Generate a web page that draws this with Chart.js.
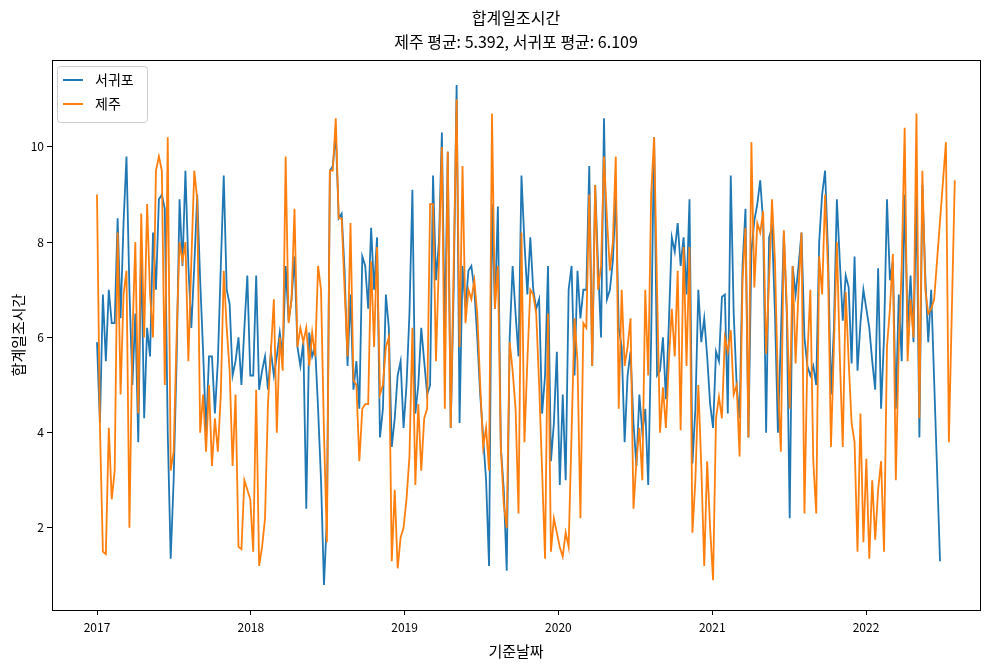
<!DOCTYPE html>
<html>
<head>
<meta charset="utf-8">
<script src="https://cdn.jsdelivr.net/npm/chart.js@4.4.0/dist/chart.umd.min.js"></script>
<style>
  html, body { margin: 0; padding: 0; background: #fff; }
  canvas { display: block; }
</style>
</head>
<body>
<canvas id="chart" width="991" height="663"></canvas>
<script>
const FONT = '"Noto Sans CJK KR", "Noto Sans", sans-serif';

const title1 = "합계일조시간";
const title2 = "제주 평균: 5.392, 서귀포 평균: 6.109";
const xTitle = "기준날짜";
const yTitle = "합계일조시간";

const startYear = 2017;          // first week of the weekly series
const yearTicks = [2017, 2018, 2019, 2020, 2021, 2022];
const yTicks = [2, 4, 6, 8, 10];

// weekly sunshine totals, 서귀포 (blue)
const seogwipo = [
  5.9, 4.2, 6.9, 5.5, 7.0, 6.3, 6.3, 8.5, 6.4, 8.4,
  9.8, 7.0, 5.0, 6.5, 3.8, 7.9, 4.3, 6.2, 5.6, 8.2,
  7.0, 8.9, 9.0, 8.7, 4.0, 1.35, 3.0, 5.5, 8.9, 7.5,
  9.5, 7.5, 6.2, 7.5, 9.0, 7.2, 5.7, 4.0, 5.6, 5.6,
  4.4, 5.5, 7.5, 9.4, 7.0, 6.7, 5.2, 5.5, 6.0, 5.0,
  6.2, 7.3,
  5.2, 5.2, 7.3, 4.9, 5.3, 5.6, 4.9, 5.7, 5.2, 5.6,
  6.1, 5.6, 7.5, 6.35, 6.8, 7.7, 5.8, 5.4, 5.9, 2.4,
  6.1, 5.6, 5.8, 4.5, 3.0, 0.8, 2.2, 9.5, 9.6, 10.3,
  8.5, 8.6, 7.4, 5.4, 6.9, 4.9, 5.5, 4.5, 7.7, 7.5,
  6.6, 8.3, 7.0, 8.1, 3.9, 4.5, 6.9, 6.2, 3.7, 4.3,
  5.2, 5.5,
  4.1, 5.0, 6.5, 9.1, 4.4, 5.0, 6.2, 5.5, 4.8, 5.0,
  9.4, 7.2, 8.0, 10.3, 6.0, 9.9, 4.1, 7.0, 11.3, 4.2,
  7.5, 6.6, 7.4, 7.5, 7.0, 6.0, 4.8, 3.9, 3.0, 1.2,
  8.8, 6.6, 8.75, 3.7, 2.8, 1.1, 6.0, 7.5, 6.5, 5.6,
  9.4, 8.0, 6.9, 8.1, 7.0, 6.6, 6.8, 4.4, 5.2, 7.5,
  3.4, 4.2,
  5.7, 2.9, 4.8, 3.0, 7.0, 7.5, 5.2, 7.4, 6.4, 7.0,
  7.0, 9.6, 5.4, 9.2, 7.5, 6.0, 10.6, 6.8, 7.0, 7.6,
  9.0, 6.2, 5.8, 3.8, 5.2, 5.7, 4.2, 3.3, 4.8, 4.0,
  4.5, 2.9, 6.0, 10.2, 5.2, 5.3, 6.0, 4.7, 6.3, 8.1,
  7.8, 8.4, 7.5, 8.1, 6.9, 8.9, 3.35, 4.5, 7.0, 5.9,
  6.4, 5.6,
  4.6, 4.1, 5.7, 5.5, 6.85, 6.9, 4.4, 9.4, 6.5, 5.0,
  4.3, 7.5, 8.7, 3.9, 7.8, 8.45, 8.8, 9.3, 8.4, 4.0,
  8.1, 8.3, 6.5, 4.0, 6.0, 8.2, 6.5, 2.2, 7.5, 6.9,
  7.5, 8.2, 6.0, 5.4, 5.2, 5.4, 5.0, 8.0, 9.0, 9.5,
  7.8, 4.8, 6.2, 8.9, 7.6, 6.35, 7.3, 7.05, 5.45, 7.7,
  5.3, 6.3,
  7.0, 6.6, 6.2, 5.5, 4.9, 7.45, 4.5, 6.0, 8.9, 7.2,
  7.6, 4.5, 6.9, 5.5, 9.0, 6.2, 7.3, 5.9, 9.0, 3.9,
  9.2, 7.3, 5.9, 7.0, null, null, 1.3
];

// weekly sunshine totals, 제주 (orange)
const jeju = [
  9.0, 4.1, 1.5, 1.45, 4.1, 2.6, 3.2, 8.2, 4.8, 6.9,
  7.4, 2.0, 6.0, 8.0, 4.4, 8.6, 6.0, 8.8, 6.9, 6.0,
  9.5, 9.8, 9.5, 5.0, 10.2, 3.2, 3.6, 6.0, 8.0, 7.6,
  8.0, 5.5, 7.6, 9.5, 8.9, 4.0, 4.8, 3.6, 5.0, 3.3,
  4.3, 3.6, 4.8, 7.4, 6.2, 5.3, 3.3, 4.8, 1.6, 1.55,
  3.0, 2.8,
  2.6, 1.5, 4.9, 1.2, 1.6, 2.2, 4.6, 5.7, 6.8, 4.0,
  6.0, 5.3, 9.8, 6.3, 6.8, 8.7, 5.8, 6.2, 5.9, 6.2,
  5.4, 6.1, 5.6, 7.5, 7.0, 4.0, 1.7, 9.5, 9.5, 10.6,
  8.5, 8.5, 7.0, 5.6, 8.4, 5.1, 5.0, 3.4, 4.5, 4.6,
  4.6, 7.6, 5.8, 7.9, 4.8, 5.0, 5.8, 6.0, 1.3, 2.8,
  1.15, 1.8,
  2.0, 2.6, 3.5, 6.2, 2.9, 4.6, 3.2, 4.3, 4.5, 8.8,
  8.8, 5.5, 7.6, 10.0, 4.5, 9.9, 4.1, 7.5, 11.0, 5.8,
  9.6, 6.3, 7.0, 6.8, 7.2, 6.5, 5.0, 3.7, 4.1, 3.2,
  10.7, 6.6, 7.5, 3.7, 2.5, 2.0, 5.9, 5.3, 4.5, 2.3,
  8.2, 3.8, 5.5, 7.0, 6.9, 6.5, 5.0, 3.2, 1.35, 6.5,
  1.5, 2.2,
  1.9, 1.6, 1.4, 1.9, 1.6, 4.0, 6.4, 5.5, 2.2, 6.3,
  6.2, 9.0, 5.4, 9.2, 7.0, 7.5, 9.8, 8.5, 7.4, 8.0,
  9.8, 4.5, 7.0, 5.4, 5.8, 6.4, 2.4, 3.4, 4.1, 3.0,
  7.0, 5.2, 9.0, 10.2, 7.0, 4.0, 4.95, 4.1, 5.5, 6.6,
  5.6, 7.4, 4.05, 7.9, 5.4, 7.9, 1.9, 3.0, 5.0, 3.3,
  1.2, 3.4,
  2.0, 0.9, 4.3, 4.75, 4.3, 6.0, 5.7, 6.15, 4.8, 5.0,
  3.5, 7.2, 8.3, 3.9, 10.1, 7.05, 8.4, 8.2, 8.65, 5.65,
  7.2, 8.9, 7.6, 5.0, 3.6, 8.25, 6.7, 4.5, 7.5, 5.45,
  7.0, 8.2, 2.3, 5.6, 7.0, 3.4, 2.3, 7.7, 6.9, 9.0,
  7.4, 3.7, 5.8, 8.0, 5.6, 3.7, 6.95, 5.5, 4.2, 3.8,
  1.5, 4.4,
  1.7, 3.45, 1.35, 3.0, 1.75, 2.8, 3.4, 1.5, 5.8, 6.6,
  7.75, 3.0, 5.8, 7.5, 10.4, 5.5, 6.8, 6.0, 10.7, 4.3,
  9.5, 7.0, 6.5, 6.6, 6.8, null, null, null, 10.1, 3.8,
  null, 9.3
];

function toPoints(vals) {
  return vals.map((v, i) => ({ x: startYear + i * 7 / 365.25, y: v }));
}

const decor = {
  id: 'decor',
  afterDraw(chart) {
    const { ctx, chartArea: a } = chart;
    ctx.save();
    // axes frame
    ctx.strokeStyle = '#000';
    ctx.lineWidth = 1;
    ctx.strokeRect(Math.round(a.left) + 0.5, Math.round(a.top) + 0.5,
      Math.round(a.right - a.left), Math.round(a.bottom - a.top));

    // title
    ctx.fillStyle = '#000';
    ctx.textAlign = 'center';
    ctx.textBaseline = 'middle';
    ctx.font = `16px ${FONT}`;
    const cx = (a.left + a.right) / 2;
    ctx.fillText(title1, cx, 18);
    ctx.fillText(title2, cx, 42);

    // legend
    const lx = a.left + 5, ly = a.top + 6, lw = 90, lh = 56;
    ctx.beginPath();
    ctx.roundRect(lx + 0.5, ly + 0.5, lw, lh, 3);
    ctx.fillStyle = 'rgba(255,255,255,0.8)';
    ctx.fill();
    ctx.strokeStyle = '#cccccc';
    ctx.stroke();
    const items = [['서귀포', '#1f77b4'], ['제주', '#ff7f0e']];
    ctx.textAlign = 'left';
    ctx.font = `14px ${FONT}`;
    items.forEach(([label, col], k) => {
      const yy = ly + 14 + k * 24;
      ctx.strokeStyle = col;
      ctx.lineWidth = 2;
      ctx.beginPath();
      ctx.moveTo(lx + 6, yy);
      ctx.lineTo(lx + 26, yy);
      ctx.stroke();
      ctx.fillStyle = '#000';
      ctx.fillText(label, lx + 38, yy);
    });
    ctx.restore();
  }
};

new Chart(document.getElementById('chart'), {
  type: 'line',
  data: {
    datasets: [
      {
        label: '서귀포',
        data: toPoints(seogwipo),
        borderColor: '#1f77b4',
        borderWidth: 1.8,
        pointRadius: 0,
        spanGaps: true,
        order: 2
      },
      {
        label: '제주',
        data: toPoints(jeju),
        borderColor: '#ff7f0e',
        borderWidth: 1.8,
        pointRadius: 0,
        spanGaps: true,
        order: 1
      }
    ]
  },
  options: {
    responsive: false,
    animation: false,
    layout: { padding: { top: 60, right: 11, left: 0, bottom: 0 } },
    plugins: {
      legend: { display: false },
      tooltip: { enabled: false },
      title: { display: false }
    },
    scales: {
      x: {
        type: 'linear',
        min: 2016.7074,
        max: 2022.741,
        afterFit(s) { s.height = 53; },
        afterBuildTicks(s) { s.ticks = yearTicks.map(v => ({ value: v })); },
        grid: { drawOnChartArea: false, drawTicks: true, tickLength: 5, color: '#000', tickColor: '#000' },
        border: { display: false },
        ticks: {
          color: '#000',
          font: { family: FONT, size: 12 },
          padding: 5,
          maxRotation: 0,
          autoSkip: false,
          callback: v => String(v)
        },
        title: {
          display: true,
          text: xTitle,
          color: '#000',
          font: { family: FONT, size: 15 },
          padding: { top: 0, bottom: 3 }
        }
      },
      y: {
        min: 0.275,
        max: 11.825,
        afterFit(s) { s.width = 52; },
        afterBuildTicks(s) { s.ticks = yTicks.map(v => ({ value: v })); },
        grid: { drawOnChartArea: false, drawTicks: true, tickLength: 5, color: '#000', tickColor: '#000' },
        border: { display: false },
        ticks: {
          color: '#000',
          font: { family: FONT, size: 12 },
          padding: 3,
          callback: v => String(v)
        },
        title: {
          display: true,
          text: yTitle,
          color: '#000',
          font: { family: FONT, size: 15 },
          padding: { top: 9, bottom: 0 }
        }
      }
    }
  },
  plugins: [decor]
});
</script>
</body>
</html>
